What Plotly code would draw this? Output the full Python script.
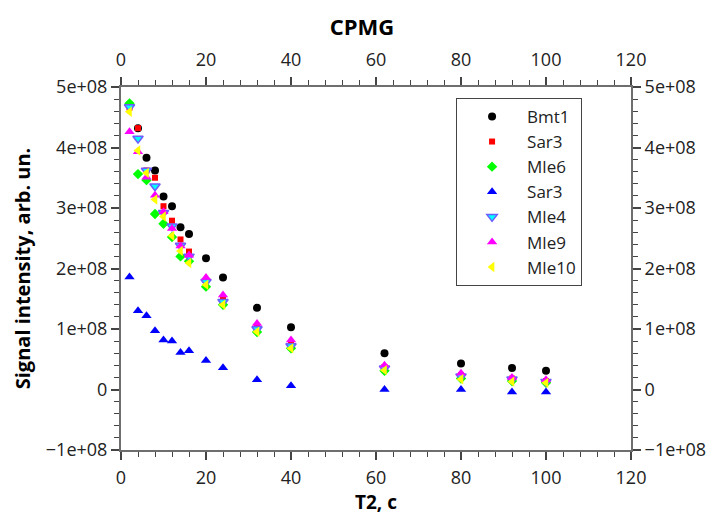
import plotly.graph_objects as go

T = [2, 4, 6, 8, 10, 12, 14, 16, 20, 24, 32, 40, 62, 80, 92, 100]

bmt1 = [None, 4.32, 3.83, 3.62, 3.19, 3.03, 2.68, 2.57, 2.17, 1.85, 1.35, 1.03, 0.60, 0.43, 0.355, 0.31]
sar3_red = [4.66, 4.32, 3.62, 3.50, 3.03, 2.79, 2.48, 2.28, 1.80, 1.50, 1.05, 0.75, 0.37, 0.24, 0.18, 0.14]
mle6 = [4.73, 3.56, 3.46, 2.90, 2.74, 2.52, 2.20, 2.12, 1.70, 1.40, 0.95, 0.68, 0.31, 0.18, 0.14, 0.11]
sar3_blue = [1.86, 1.30, 1.22, 0.97, 0.82, 0.80, 0.61, 0.64, 0.48, 0.36, 0.16, 0.06, 0.0, 0.0, -0.04, -0.04]
mle4 = [4.67, 4.15, 3.62, 3.36, 2.92, 2.70, 2.38, 2.20, 1.78, 1.45, 1.00, 0.72, 0.35, 0.22, 0.17, 0.13]
mle9 = [4.26, 3.93, 3.51, 3.21, 2.94, 2.66, 2.37, 2.22, 1.85, 1.56, 1.09, 0.82, 0.40, 0.27, 0.20, 0.16]
mle10 = [4.59, 3.95, 3.58, 3.14, 2.86, 2.54, 2.29, 2.09, 1.73, 1.40, 0.955, 0.68, 0.32, 0.17, 0.13, 0.11]

x_ticks = [0, 20, 40, 60, 80, 100, 120]
y_ticks = [-1e8, 0, 1e8, 2e8, 3e8, 4e8, 5e8]
y_ticktext = ["\u22121e+08", "0", "1e+08", "2e+08", "3e+08", "4e+08", "5e+08"]

def scale(v):
    return [None if a is None else a * 1e8 for a in v]

series = [
    ("Bmt1", bmt1, dict(symbol="circle", size=8, color="#000000")),
    ("Sar3", sar3_red, dict(symbol="square", size=6, color="#ff0000")),
    ("Mle6", mle6, dict(symbol="diamond", size=8, color="#00ff00")),
    ("Sar3", sar3_blue, dict(symbol="triangle-up", size=9, color="#0000ff")),
    ("Mle4", mle4, dict(symbol="triangle-down", size=9, color="#00ffff",
                        line=dict(color="#6a5cff", width=1.5))),
    ("Mle9", mle9, dict(symbol="triangle-up", size=9, color="#ff00ff")),
    ("Mle10", mle10, dict(symbol="triangle-left", size=9, color="#ffff00")),
]

fig = go.Figure()
for name, vals, mk in series:
    fig.add_trace(go.Scatter(x=T, y=scale(vals), mode="markers", name=name, marker=mk))

fig.add_trace(go.Scatter(x=[], y=[], xaxis="x2", yaxis="y2", showlegend=False, hoverinfo="skip"))

font_main = "Open Sans"
axis_common = dict(
    showline=True, linecolor="#6e6e6e", linewidth=2,
    ticks="outside", ticklen=8, tickwidth=1.5, tickcolor="#444",
    showgrid=False, zeroline=False,
    tickfont=dict(family=font_main, size=18, color="#222"),
)
minor_x = dict(dtick=4, ticklen=5, tickwidth=1.2, tickcolor="#444", ticks="outside")
minor_y = dict(dtick=2e7, ticklen=5, tickwidth=1.2, tickcolor="#444", ticks="outside")

fig.update_layout(
    width=724, height=516,
    margin=dict(l=121, r=93, t=87, b=66),
    paper_bgcolor="white", plot_bgcolor="white",
    font=dict(family=font_main, color="#000"),
    title=dict(text="<b>CPMG</b>", x=0.5, xanchor="center", y=0.947, yanchor="middle",
               font=dict(family=font_main, size=22, color="#000")),
    xaxis=dict(range=[0, 120], tickvals=x_ticks, minor=minor_x, ticklabelstandoff=2,
               title=dict(text="<b>T2, c</b>", font=dict(family=font_main, size=19), standoff=0),
               **axis_common),
    xaxis2=dict(range=[0, 120], tickvals=x_ticks, overlaying="x", side="top", minor=minor_x,
                ticklabelstandoff=4, **axis_common),
    yaxis=dict(range=[-1e8, 5e8], tickvals=y_ticks, ticktext=y_ticktext, minor=minor_y,
               title=dict(text="<b>Signal intensity, arb. un.</b>", font=dict(family=font_main, size=20), standoff=10),
               **axis_common),
    yaxis2=dict(range=[-1e8, 5e8], tickvals=y_ticks, ticktext=y_ticktext, overlaying="y", side="right",
                minor=minor_y, **axis_common),
    legend=dict(x=0.657, y=0.97, xanchor="left", yanchor="top",
                bordercolor="#444", borderwidth=1, bgcolor="white",
                font=dict(family=font_main, size=17, color="#222"),
                itemwidth=60, entrywidth=76),
    showlegend=True,
)

fig.write_html("out.html")
